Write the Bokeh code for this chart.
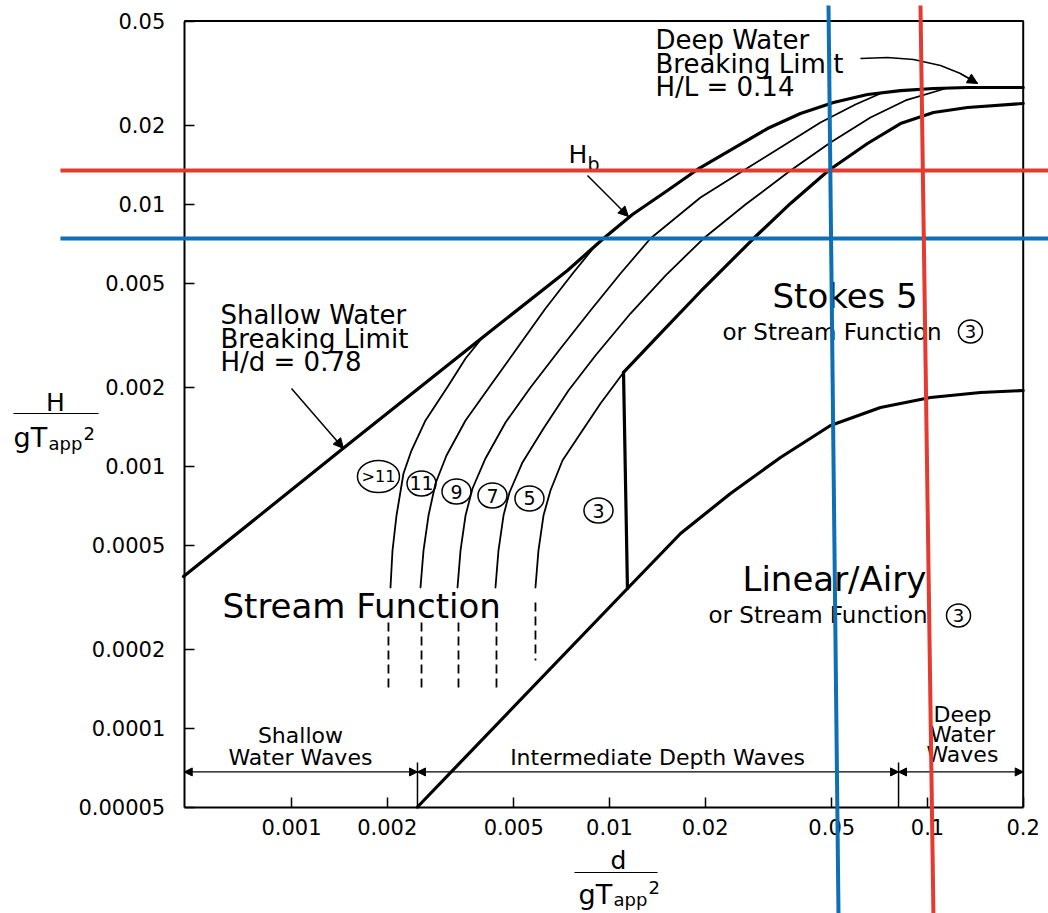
from bokeh.plotting import figure
from bokeh.models import Range1d, FixedTicker, CustomJSTickFormatter, Arrow, NormalHead
from bokeh.core.properties import value
from bokeh.embed import file_html
from bokeh.resources import INLINE

FONT = "DejaVu Sans"

# ---------------- data ----------------
x_lo, x_hi = 0.00046, 0.2
y_lo, y_hi = 0.00005, 0.05
x_ticks = [0.001, 0.002, 0.005, 0.01, 0.02, 0.05, 0.1, 0.2]
y_ticks = [0.00005, 0.0001, 0.0002, 0.0005, 0.001, 0.002, 0.005, 0.01, 0.02, 0.05]

# breaking limit (shallow water H/d = 0.78 ... deep water H/L = 0.14)
hb_x = [4.575e-4, 1.426e-3, 3.987e-3, 7.376e-3, 9.574e-3, 1.181e-2, 1.522e-2, 1.891e-2,
        2.454e-2, 3.140e-2, 3.987e-2, 5.063e-2, 6.476e-2, 8.225e-2, 0.1044, 0.1336, 0.2]
hb_y = [3.79e-4, 1.147e-3, 3.097e-3, 5.58e-3, 7.392e-3, 9.131e-3, 1.127e-2, 1.356e-2,
        1.631e-2, 1.944e-2, 2.218e-2, 2.443e-2, 2.621e-2, 2.714e-2, 2.763e-2, 2.787e-2, 2.787e-2]

# stream function order boundaries
sf_gt11_x = [2.048e-3, 2.078e-3, 2.139e-3, 2.250e-3, 2.384e-3, 2.639e-3, 3.116e-3, 3.526e-3, 3.987e-3]
sf_gt11_y = [3.441e-4, 4.762e-4, 6.480e-4, 9.374e-4, 1.147e-3, 1.494e-3, 2.031e-3, 2.575e-3, 3.097e-3]
sf11_x = [2.545e-3, 2.601e-3, 2.697e-3, 2.837e-3, 3.072e-3, 3.526e-3, 4.224e-3, 5.063e-3,
          6.291e-3, 7.705e-3, 9.036e-3]
sf11_y = [3.441e-4, 4.762e-4, 6.480e-4, 8.586e-4, 1.098e-3, 1.494e-3, 2.031e-3, 2.763e-3,
          3.997e-3, 5.483e-3, 6.955e-3]
sf9_x = [3.327e-3, 3.400e-3, 3.526e-3, 3.709e-3, 4.074e-3, 4.710e-3, 5.643e-3, 7.015e-3, 8.716e-3,
         1.083e-2, 1.345e-2, 1.933e-2, 2.639e-2, 3.449e-2, 4.607e-2, 5.936e-2, 7.116e-2]
sf9_y = [3.441e-4, 4.762e-4, 6.480e-4, 8.215e-4, 1.070e-3, 1.468e-3, 1.995e-3, 2.812e-3, 3.926e-3,
         5.436e-3, 7.392e-3, 1.060e-2, 1.344e-2, 1.645e-2, 2.049e-2, 2.401e-2, 2.644e-2]
sf7_x = [4.380e-3, 4.476e-3, 4.642e-3, 4.847e-3, 5.326e-3, 6.201e-3, 7.431e-3, 9.036e-3, 1.164e-2,
         1.500e-2, 1.975e-2, 2.677e-2, 3.709e-2, 4.955e-2, 6.618e-2, 8.527e-2, 0.1139]
sf7_y = [3.441e-4, 4.762e-4, 6.480e-4, 7.931e-4, 1.033e-3, 1.392e-3, 1.944e-3, 2.644e-3, 3.824e-3,
         5.340e-3, 7.392e-3, 9.968e-3, 1.344e-2, 1.719e-2, 2.141e-2, 2.487e-2, 2.763e-2]
sf5_x = [5.851e-3, 5.979e-3, 6.201e-3, 6.523e-3, 7.115e-3, 8.102e-3, 9.369e-3, 1.107e-2]
sf5_y = [3.441e-4, 4.762e-4, 6.480e-4, 8.072e-4, 1.051e-3, 1.332e-3, 1.734e-3, 2.278e-3]

# dashed continuations below the solid order curves
dash_x = [2.018e-3, 2.564e-3, 3.351e-3, 4.412e-3, 5.851e-3]
dash_top = [2.530e-4, 2.530e-4, 2.530e-4, 2.530e-4, 3.017e-4]
dash_bot = [1.429e-4, 1.429e-4, 1.429e-4, 1.429e-4, 1.812e-4]

# Stokes 5 / stream function boundary
stokes_x = [1.107e-2, 1.447e-2, 1.933e-2, 2.837e-2, 3.709e-2, 4.884e-2, 6.476e-2, 8.225e-2,
            0.1044, 0.1336, 0.2]
stokes_y = [2.278e-3, 3.209e-3, 4.641e-3, 7.392e-3, 1.006e-2, 1.344e-2, 1.704e-2, 2.031e-2,
            2.238e-2, 2.338e-2, 2.422e-2]
# vertical boundary (stream function 3)
vert_x = [1.107e-2, 1.139e-2]
vert_y = [2.278e-3, 3.412e-4]
# linear / Airy limit
airy_x = [2.490e-3, 1.139e-2, 1.673e-2, 2.402e-2, 3.449e-2, 4.955e-2, 7.116e-2, 0.1022, 0.1468, 0.2]
airy_y = [5.0e-5, 3.412e-4, 5.532e-4, 7.862e-4, 1.079e-3, 1.429e-3, 1.674e-3, 1.828e-3, 1.910e-3, 1.944e-3]

# circled order labels
order_labels = [">11", "11", "9", "7", "5", "3"]
order_x = [1.877e-3, 2.564e-3, 3.303e-3, 4.286e-3, 5.602e-3, 9.234e-3]
order_y = [9.131e-4, 8.586e-4, 8.001e-4, 7.725e-4, 7.525e-4, 6.77e-4]

# depth zones (d/gT^2 limits)
zone_edges = [x_lo, 0.00249, 0.0811, x_hi]
zone_line_y = 6.804e-5

# highlighted reference lines
red_h = 1.344e-2
blue_h = 7.392e-3
red_v_x = [9.506e-2, 0.1044]
blue_v_x = [4.884e-2, 5.250e-2]
v_y = [0.0573, 1.961e-5]
h_x = [1.877e-4, 0.3]

# ---------------- figure ----------------
p = figure(width=1048, height=913, x_axis_type="log", y_axis_type="log",
           x_range=Range1d(1.216e-4, 0.2402), y_range=Range1d(1.961e-5, 5.988e-2),
           output_backend="svg", toolbar_location=None, min_border=0)
p.outline_line_color = None
p.xgrid.visible = False
p.ygrid.visible = False

for ax, ticks, loc, bnd in ((p.xaxis[0], x_ticks, y_lo, (x_lo, x_hi)),
                            (p.yaxis[0], y_ticks, x_lo, (y_lo, y_hi))):
    ax.ticker = FixedTicker(ticks=ticks)
    ax.formatter = CustomJSTickFormatter(code="return tick.toString();")
    ax.fixed_location = loc
    ax.bounds = bnd
    ax.axis_line_width = 2
    ax.axis_line_color = "black"
    ax.major_tick_in = 10
    ax.major_tick_out = 0
    ax.major_tick_line_width = 1.5
    ax.major_tick_line_color = "black"
    ax.minor_tick_line_color = None
    ax.major_label_text_font = FONT
    ax.major_label_text_font_size = "21px"
    ax.major_label_text_color = "black"
p.xaxis.major_label_standoff = 12
p.yaxis.major_label_standoff = 19

# frame top/right
p.line([x_lo, x_hi, x_hi], [y_hi, y_hi, y_lo], line_color="black", line_width=2)

thick = dict(line_color="black", line_width=3.2, line_join="round", line_cap="round")
thin = dict(line_color="black", line_width=1.8, line_join="round", line_cap="round")

p.line(hb_x, hb_y, **thick)
for xs, ys in ((sf_gt11_x, sf_gt11_y), (sf11_x, sf11_y), (sf9_x, sf9_y), (sf7_x, sf7_y), (sf5_x, sf5_y)):
    p.line(xs, ys, **thin)
p.segment(x0=dash_x, y0=dash_top, x1=dash_x, y1=dash_bot, line_color="black",
          line_width=1.8, line_dash="9 5")
p.line(stokes_x, stokes_y, **thick)
p.line(vert_x, vert_y, **thick)
p.line(airy_x, airy_y, **thick)

# circled orders
p.ellipse(x=order_x[:1], y=order_y[:1], width=42, height=32, width_units="screen",
          height_units="screen", fill_color=None, line_color="black", line_width=1.5)
p.ellipse(x=order_x[1:], y=order_y[1:], width=29, height=25, width_units="screen",
          height_units="screen", fill_color=None, line_color="black", line_width=1.5)
p.text(x=order_x[:1], y=order_y[:1], text=order_labels[:1], text_font=value(FONT),
       text_font_size=value("16px"), text_align="center", text_baseline="middle", text_color="black")
p.text(x=order_x[1:], y=order_y[1:], text=order_labels[1:], text_font=value(FONT),
       text_font_size=value("19px"), text_align="center", text_baseline="middle", text_color="black")


def txt(x, y, s, size, align="left", baseline="middle"):
    p.text(x=[x], y=[y], text=[s], text_font=value(FONT), text_font_size=value(size),
           text_align=align, text_baseline=baseline, text_color="black")


txt(1.395e-2, 4.232e-2, "Deep Water", "26px")
txt(1.395e-2, 3.426e-2, "Breaking Limit", "26px")
txt(1.395e-2, 2.800e-2, "H/L = 0.14", "26px")
txt(7.431e-3, 1.547e-2, "H", "25px")
txt(8.528e-3, 1.417e-2, "b", "19px")
txt(5.979e-4, 3.791e-3, "Shallow Water", "26px")
txt(5.979e-4, 3.057e-3, "Breaking Limit", "26px")
txt(5.979e-4, 2.497e-3, "H/d = 0.78", "26px")
txt(3.255e-2, 4.480e-3, "Stokes 5", "34px")
txt(2.266e-2, 3.265e-3, "or Stream Function", "23px")
txt(2.619e-2, 3.725e-4, "Linear/Airy", "34px")
txt(2.048e-2, 2.692e-4, "or Stream Function", "23px")
txt(6.067e-4, 2.938e-4, "Stream Function", "34px")
circ3_x = [0.1365, 0.1252]
circ3_y = [3.265e-3, 2.692e-4]
p.ellipse(x=circ3_x, y=circ3_y, width=24, height=23, width_units="screen", height_units="screen",
          fill_color=None, line_color="black", line_width=1.5)
p.text(x=circ3_x, y=circ3_y, text=["3", "3"], text_font=value(FONT), text_font_size=value("18px"),
       text_align="center", text_baseline="middle", text_color="black")

txt(1.067e-3, 9.333e-5, "Shallow", "22px", align="center")
txt(1.067e-3, 7.759e-5, "Water Waves", "22px", align="center")
txt(1.416e-2, 7.759e-5, "Intermediate Depth Waves", "22px", align="center")
txt(0.1288, 1.132e-4, "Deep", "22px", align="center")
txt(0.1288, 9.415e-5, "Water", "22px", align="center")
txt(0.1288, 7.898e-5, "Waves", "22px", align="center")

# axis titles (fractions)
txt(1.811e-4, 1.750e-3, "H", "25px", align="center")
p.line([1.336e-4, 2.473e-4], [1.588e-3, 1.588e-3], line_color="black", line_width=1.2)
txt(1.336e-4, 1.286e-3, "gT", "27px", baseline="alphabetic")
txt(1.721e-4, 1.220e-3, "app", "18px", baseline="alphabetic")
txt(2.218e-4, 1.332e-3, "2", "18px", baseline="alphabetic")

txt(1.067e-2, 3.124e-5, "d", "25px", align="center")
p.line([7.762e-3, 1.416e-2], [2.812e-5, 2.812e-5], line_color="black", line_width=1.2)
txt(7.990e-3, 2.317e-5, "gT", "27px", baseline="alphabetic")
txt(1.029e-2, 2.218e-5, "app", "18px", baseline="alphabetic")
txt(1.326e-2, 2.464e-5, "2", "18px", baseline="alphabetic")

# pointer arrows
p.add_layout(Arrow(end=NormalHead(size=10, fill_color="black", line_color="black"),
                   x_start=1e-3, y_start=1.978e-3, x_end=1.457e-3, y_end=1.168e-3, line_width=1.5))
p.add_layout(Arrow(end=NormalHead(size=10, fill_color="black", line_color="black"),
                   x_start=8.528e-3, y_start=1.286e-2, x_end=1.147e-2, y_end=8.969e-3, line_width=1.5))
p.line([6.155e-2, 7.484e-2, 9.036e-2, 0.1099, 0.1270, 0.1437],
       [3.596e-2, 3.627e-2, 3.565e-2, 3.381e-2, 3.151e-2, 2.888e-2], line_color="black", line_width=1.5)
p.add_layout(Arrow(end=NormalHead(size=10, fill_color="black", line_color="black"),
                   x_start=0.1270, y_start=3.151e-2, x_end=0.1437, y_end=2.888e-2, line_width=1.5))

# depth zone dimension line
for a, b in zip(zone_edges[:-1], zone_edges[1:]):
    p.add_layout(Arrow(start=NormalHead(size=8, fill_color="black", line_color="black"),
                       end=NormalHead(size=8, fill_color="black", line_color="black"),
                       x_start=a, y_start=zone_line_y, x_end=b, y_end=zone_line_y, line_width=1.2))
p.segment(x0=zone_edges[1:3], y0=[7.392e-5, 7.392e-5], x1=zone_edges[1:3], y1=[y_lo, y_lo],
          line_color="black", line_width=1.5)

# highlighted lines
RED = "#e53a2f"
BLUE = "#0e6fb4"
p.line(h_x, [red_h, red_h], line_color=RED, line_width=4, level="overlay")
p.line(h_x, [blue_h, blue_h], line_color=BLUE, line_width=4, level="overlay")
p.line(blue_v_x, v_y, line_color=BLUE, line_width=4, level="overlay")
p.line(red_v_x, v_y, line_color=RED, line_width=4, level="overlay")

open("out.html", "w").write(file_html(p, INLINE))
